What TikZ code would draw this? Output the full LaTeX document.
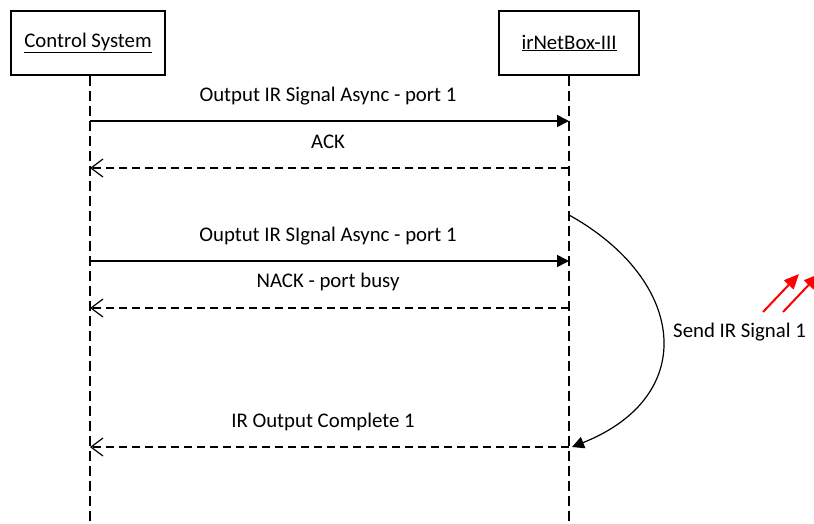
\documentclass[tikz,border=0pt]{standalone}
\usepackage{fontspec}
\setmainfont{Carlito}
\usetikzlibrary{arrows.meta}
\tikzset{
  actor/.style={draw, line width=1.2pt, minimum width=#1, minimum height=64pt, inner sep=0pt},
  lifeline/.style={line width=1.2pt, dash pattern=on 10pt off 5pt},
  callmsg/.style={line width=1.6pt, -{Triangle[length=12pt,width=12pt]}},
  replymsg/.style={line width=1.2pt, dash pattern=on 8pt off 5pt, -{Straight Barb[length=12pt,width=18pt,line width=1.2pt]}},
  selfmsg/.style={line width=1.2pt, -{Triangle[length=12pt,width=12pt]}},
  msglabel/.style={anchor=base, inner sep=0pt},
  redarrow/.style={red, line width=2pt, -{Triangle[length=15pt,width=13pt]}},
}
\begin{document}
\begin{tikzpicture}[x=1pt,y=-1pt, font=\fontsize{20.8}{24}\selectfont]
\useasboundingbox (0,0) rectangle (814,523);
\node[actor=154pt] (cs) at (88,43) {\underline{Control System}};
\node[actor=140pt] (ir) at (569,43) {\underline{irNetBox-III}};
\coordinate (csb) at (90,523);
\coordinate (irb) at (569,523);
\draw[lifeline] (cs.south -| csb) -- (csb);
\draw[lifeline] (ir.south) -- (irb);
% messages
\coordinate (a1) at (90,121); \coordinate (b1) at (569,121);
\coordinate (a2) at (90,168); \coordinate (b2) at (569,168);
\coordinate (a3) at (90,261); \coordinate (b3) at (569,261);
\coordinate (a4) at (90,308); \coordinate (b4) at (569,308);
\coordinate (a5) at (90,447); \coordinate (b5) at (569,447);
\draw[callmsg] (a1) -- (b1);
\node[msglabel] (l1) at (328,101) {Output IR Signal Async - port 1};
\draw[replymsg] (b2) -- (a2);
\node[msglabel] (l2) at (328,148) {ACK};
\draw[callmsg] (a3) -- (b3);
\node[msglabel] (l3) at (328,241) {Ouptut IR SIgnal Async - port 1};
\draw[replymsg] (b4) -- (a4);
\node[msglabel] (l4) at (328,287) {NACK - port busy};
\draw[replymsg] (b5) -- (a5);
\node[msglabel] (l5) at (323,427) {IR Output Complete 1};
% self activity curve
\coordinate (c0) at (569,215);
\coordinate (c1) at (572,447);
\draw[selfmsg] (c0) .. controls (686,280) and (700,396) .. (c1);
\node[anchor=base west, inner sep=0pt] (sl) at (673,337) {Send IR Signal 1};
% red arrows
\coordinate (r1s) at (763,312); \coordinate (r1e) at (799,274);
\coordinate (r2s) at (783,312); \coordinate (r2e) at (819,274);
\draw[redarrow] (r1s) -- (r1e);
\draw[redarrow] (r2s) -- (r2e);
\end{tikzpicture}
\end{document}
